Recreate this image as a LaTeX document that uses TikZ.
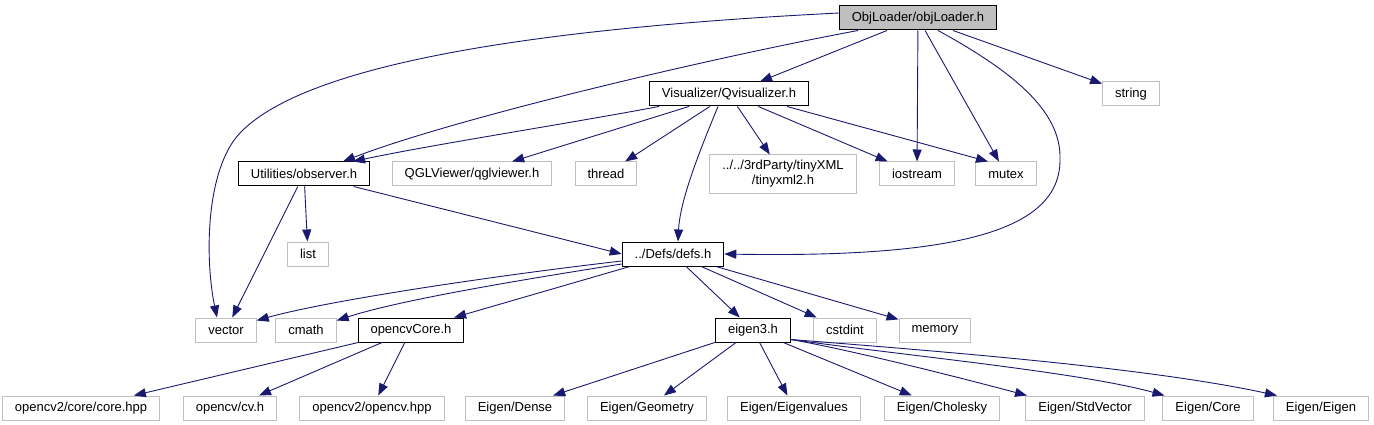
\documentclass[tikz,border=0pt]{standalone}
\usepackage{fontspec}
\setmainfont{Liberation Sans}
\usepackage{xcolor}
\usepackage{tikz}
\usetikzlibrary{arrows.meta,positioning}

\definecolor{edgeblue}{HTML}{191970}
\definecolor{sysgray}{HTML}{BFBFBF}

\begin{document}
\begin{tikzpicture}[
    x=1pt, y=1pt,
    box/.style={rectangle, draw=black, line width=1pt, fill=white, align=center, minimum height=24pt, inner xsep=12.5pt, inner ysep=0pt, font=\fontsize{13}{15}\selectfont},
    sysbox/.style={box, draw=sysgray},
    rootbox/.style={box, fill=sysgray},
    arrow/.style={-{Triangle[length=12pt,width=9pt]}, edgeblue, line width=0.9pt}
]
\useasboundingbox (0,0) rectangle (1374,-425);

% Nodes
\node[rootbox] (objLoader) at (918,-18) {ObjLoader/objLoader.h};

\node[box] (vis) at (729,-94) {Visualizer/Qvisualizer.h};
\node[sysbox] (string) at (1131,-94) {string};

\node[box] (observer) at (304,-174) {Utilities/observer.h};
\node[sysbox] (qgl) at (472,-174) {QGLViewer/qglviewer.h};
\node[sysbox] (thread) at (606,-174) {thread};
\node[sysbox, minimum height=38pt] (tinyxml) at (783,-174) {../../3rdParty/tinyXML\\/tinyxml2.h};
\node[sysbox] (iostream) at (917,-174) {iostream};
\node[sysbox] (mutex) at (1006,-174) {mutex};

\node[sysbox] (list) at (308,-254) {list};
\node[box] (defs) at (673,-254) {../Defs/defs.h};

\node[sysbox] (vector) at (226,-330) {vector};
\node[sysbox] (cmath) at (306,-330) {cmath};
\node[box] (ocvCore) at (411,-330) {opencvCore.h};
\node[box] (eigen) at (753,-330) {eigen3.h};
\node[sysbox] (cstdint) at (845,-330) {cstdint};
\node[sysbox] (memory) at (935,-330) {memory};

\node[sysbox] (coreHpp) at (81,-408) {opencv2/core/core.hpp};
\node[sysbox] (cvH) at (230,-408) {opencv/cv.h};
\node[sysbox] (ocvHpp) at (372,-408) {opencv2/opencv.hpp};
\node[sysbox] (eDense) at (515,-408) {Eigen/Dense};
\node[sysbox] (eGeometry) at (647,-408) {Eigen/Geometry};
\node[sysbox] (eEigenvalues) at (794,-408) {Eigen/Eigenvalues};
\node[sysbox] (eCholesky) at (942,-408) {Eigen/Cholesky};
\node[sysbox] (eStdVector) at (1085,-408) {Eigen/StdVector};
\node[sysbox] (eCore) at (1208,-408) {Eigen/Core};
\node[sysbox] (eEigen) at (1321,-408) {Eigen/Eigen};

% Edges from objLoader
\draw[arrow] ([yshift=5pt]objLoader.west) .. controls (500,-30) and (300,-70) .. (240,-133)
    .. controls (205,-170) and (205,-260) .. ([xshift=-9pt]vector.north);
\draw[arrow] ([xshift=-60pt]objLoader.south) .. controls (700,-60) and (450,-120) .. ([xshift=39pt]observer.north);
\draw[arrow] (objLoader) -- (vis);
\draw[arrow] (objLoader) -- (iostream);
\draw[arrow] (objLoader) -- (mutex);
\draw[arrow] ([xshift=20pt]objLoader.south) .. controls (1010,-70) and (1062,-110) .. (1060,-160)
    .. controls (1060,-230) and (960,-258) .. (defs.east);
\draw[arrow] (objLoader) -- (string);

% Edges from vis
\draw[arrow] ([xshift=-70pt]vis.south) .. controls (560,-125) and (430,-145) .. ([xshift=49pt]observer.north);
\draw[arrow] (vis) -- (qgl);
\draw[arrow] (vis) -- (thread);
\draw[arrow] (vis) -- (tinyxml);
\draw[arrow] (vis) -- (iostream);
\draw[arrow] ([xshift=58pt]vis.south) -- ([xshift=-18pt]mutex.north);
\draw[arrow] ([xshift=-11pt]vis.south) .. controls (700,-150) and (680,-200) .. ([xshift=5pt]defs.north);

% Edges from observer
\draw[arrow] (observer) -- (list);
\draw[arrow] (observer) -- (vector);
\draw[arrow] (observer) -- (defs.west);

% Edges from defs
\draw[arrow] ([yshift=-7pt]defs.west) .. controls (500,-275) and (330,-300) .. ([yshift=-3pt]vector.north east);
\draw[arrow] ([yshift=-10pt]defs.west) .. controls (520,-280) and (400,-300) .. ([yshift=-3pt]cmath.north east);
\draw[arrow] (defs) -- (ocvCore);
\draw[arrow] (defs) -- (eigen);
\draw[arrow] (defs) -- (cstdint);
\draw[arrow] (defs) -- (memory);

% Edges from opencvCore
\draw[arrow] (ocvCore) -- (coreHpp);
\draw[arrow] (ocvCore) -- (cvH);
\draw[arrow] (ocvCore) -- (ocvHpp);

% Edges from eigen
\draw[arrow] (eigen) -- (eDense);
\draw[arrow] (eigen) -- (eGeometry);
\draw[arrow] (eigen) -- (eEigenvalues);
\draw[arrow] (eigen) -- (eCholesky);
\draw[arrow] ([yshift=3pt]eigen.south east) .. controls (850,-350) and (950,-375) .. ([xshift=-58pt]eStdVector.north);
\draw[arrow] ([yshift=3pt]eigen.south east) .. controls (900,-355) and (1080,-372) .. ([xshift=2pt]eCore.north west);
\draw[arrow] ([yshift=3pt]eigen.south east) .. controls (950,-352) and (1150,-368) .. ([xshift=4pt]eEigen.north west);

\end{tikzpicture}
\end{document}
